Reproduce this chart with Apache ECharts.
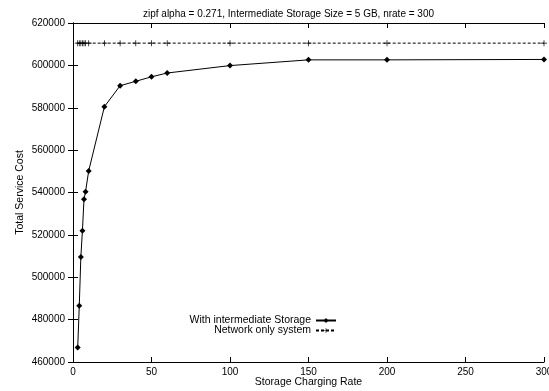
<!DOCTYPE html>
<html style="height:100%">
<head>
    <meta charset="utf-8">
    <title>ECharts</title>
    <script src="https://cdn.jsdelivr.net/npm/echarts@6/dist/echarts.min.js"></script>
</head>
<body style="height:100%;margin:0">
    <div id="main" style="width:549px;height:391px;"></div>
    <script type="text/javascript">
        var chart = echarts.init(document.getElementById('main'));

        // storage charging rate (x)
        var rates = [3, 4, 5, 6, 7, 8, 10, 20, 30, 40, 50, 60, 100, 150, 200, 300];
        // total service cost, with intermediate storage
        var withStorage = [466800, 486500, 509600, 521900, 536800, 540400, 550200, 580500,
            590400, 592500, 594600, 596400, 599900, 602600, 602600, 602800];
        // total service cost, network only
        var networkOnly = [610500, 610500, 610500, 610500, 610500, 610500, 610500, 610500,
            610500, 610500, 610500, 610500, 610500, 610500, 610500, 610500];

        function pairs(ys) {
            return rates.map(function (x, i) { return [x, ys[i]]; });
        }

        var font = 'Liberation Sans';
        // thin plus sign
        var plus = 'path://M4.4,0 H5.6 V4.4 H10 V5.6 H5.6 V10 H4.4 V5.6 H0 V4.4 H4.4 Z';

        var xBase = {
            type: 'value', min: 0, max: 300, interval: 50,
            axisLine: { show: true, lineStyle: { color: '#000', width: 1 } },
            axisTick: { show: true, inside: true, length: 5, lineStyle: { color: '#000' } },
            splitLine: { show: false }
        };
        var yBase = {
            type: 'value', min: 460000, max: 620000, interval: 20000,
            axisLine: { show: true, lineStyle: { color: '#000', width: 1 } },
            axisTick: { show: true, inside: true, length: 5, lineStyle: { color: '#000' } },
            splitLine: { show: false }
        };

        var option = {
            backgroundColor: '#fff',
            animation: false,
            title: {
                text: 'zipf alpha = 0.271, Intermediate Storage Size = 5 GB, nrate = 300',
                left: 138,
                top: 4,
                textStyle: { fontFamily: font, fontSize: 10, fontWeight: 'normal', color: '#000' }
            },
            grid: { left: 73, right: 5, top: 23, bottom: 29, outerBoundsMode: 'none', containLabel: false },
            legend: [{
                data: ['With intermediate Storage'],
                right: 207, top: 310,
                itemWidth: 20, itemHeight: 6,
                align: 'right',
                textStyle: { fontFamily: font, fontSize: 10.5, color: '#000' }
            }, {
                data: ['Network only system'],
                right: 207, top: 320,
                itemWidth: 20, itemHeight: 6,
                align: 'right',
                textStyle: { fontFamily: font, fontSize: 10.5, color: '#000' }
            }],
            xAxis: [Object.assign({}, xBase, {
                position: 'bottom',
                name: 'Storage Charging Rate',
                nameLocation: 'middle',
                nameGap: 15,
                nameMoveOverlap: false,
                nameTextStyle: { fontFamily: font, fontSize: 10.5, color: '#000' },
                axisLabel: { fontFamily: font, fontSize: 10, color: '#000', margin: 5 }
            }), Object.assign({}, xBase, {
                position: 'top',
                axisLabel: { show: false }
            })],
            yAxis: [Object.assign({}, yBase, {
                position: 'left',
                name: 'Total Service Cost',
                nameLocation: 'middle',
                nameGap: 47,
                nameMoveOverlap: false,
                nameTextStyle: { fontFamily: font, fontSize: 10.5, color: '#000' },
                axisLabel: {
                    fontFamily: font, fontSize: 10, color: '#000', margin: 8,
                    formatter: function (v) { return String(v); }
                }
            }), Object.assign({}, yBase, {
                position: 'right',
                axisLabel: { show: false }
            })],
            series: [{
                name: 'With intermediate Storage',
                type: 'line',
                data: pairs(withStorage),
                symbol: 'diamond',
                symbolSize: 6,
                lineStyle: { color: '#000', width: 1 },
                itemStyle: { color: '#000' }
            }, {
                name: 'Network only system',
                type: 'line',
                data: pairs(networkOnly),
                symbol: plus,
                symbolSize: 6,
                lineStyle: { color: '#000', width: 1, type: [3, 2] },
                itemStyle: { color: '#000' }
            }]
        };

        chart.setOption(option);
    </script>
</body>
</html>
